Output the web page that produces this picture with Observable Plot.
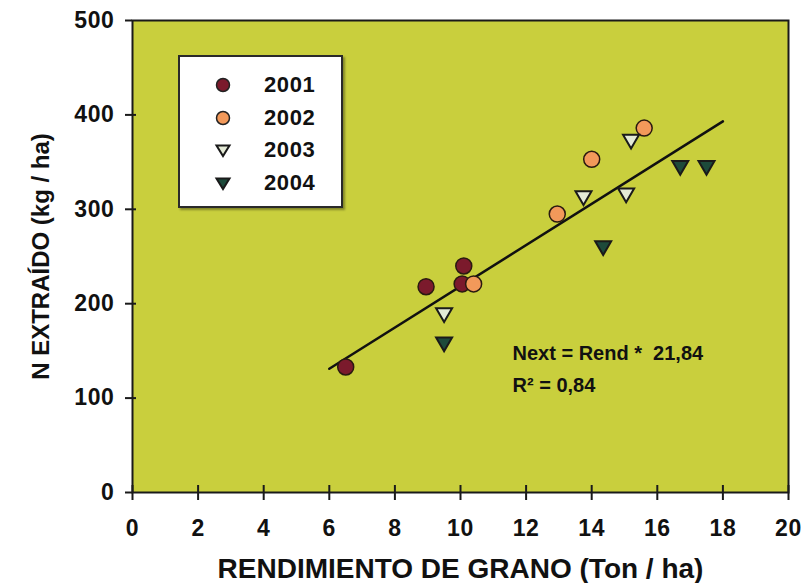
<!DOCTYPE html>
<html>
<head>
<meta charset="utf-8">
<script src="https://cdn.jsdelivr.net/npm/d3@7"></script>
<script src="https://cdn.jsdelivr.net/npm/@observablehq/plot@0.6"></script>
<style>
  html, body { margin: 0; padding: 0; background: #fff; }
  #wrap { position: relative; width: 805px; height: 583px; font-family: "Liberation Sans", Arial, sans-serif; }
  #legend { position: absolute; left: 178px; top: 55px; width: 161px; height: 149px; background: #fff;
            border: 2px solid #2a2a2a; box-shadow: 2px 2px 2px rgba(0,0,0,0.35); }
  .li { position: absolute; left: 0; height: 24px; display: flex; align-items: center; }
  .li svg { margin-left: 34px; }
  .li span { margin-left: 32px; font-weight: bold; font-size: 22px; letter-spacing: 0.6px; color: #111; }
  #chart g[aria-label$="tick label"] text { font-size: 23px; letter-spacing: 0.6px; }
  #chart g[aria-label="x-axis label"] text { font-size: 28px; }
  #chart g[aria-label="y-axis label"] text { font-size: 24px; }
  #chart g[aria-label="text"] text { font-size: 20px; }
</style>
</head>
<body>
<div id="wrap"><div id="chart"></div><div id="legend"></div></div>
<script>
// Data
const years = ["2001", "2002", "2003", "2004"];
const rend2001 = [6.5, 8.95, 10.1, 10.05];
const next2001 = [133, 218, 240, 221];
const rend2002 = [10.4, 12.95, 14.0, 15.6];
const next2002 = [221, 295, 353, 386];
const rend2003 = [9.5, 13.75, 15.05, 15.2];
const next2003 = [189, 313, 316, 373];
const rend2004 = [9.5, 14.35, 16.7, 17.5];
const next2004 = [158, 260, 345, 345];
const slope = 21.84;
const r2 = "0,84";
const fitX = [6, 18];
const xTicks = [0, 2, 4, 6, 8, 10, 12, 14, 16, 18, 20];
const yTicks = [0, 100, 200, 300, 400, 500];

const fills = {"2001": "#7b1a2c", "2002": "#f2995a", "2003": "#e4ead6", "2004": "#1d4a3a"};
const shapes = {"2001": "circle", "2002": "circle", "2003": "tri", "2004": "tri"};

const triDown = {
  draw(ctx, size) {
    const r = Math.sqrt(size / Math.PI);
    ctx.moveTo(-r, -0.72 * r);
    ctx.lineTo(r, -0.72 * r);
    ctx.lineTo(0, r);
    ctx.closePath();
  }
};

const rows = [];
[[rend2001, next2001], [rend2002, next2002], [rend2003, next2003], [rend2004, next2004]].forEach(([xs, ys], i) => {
  xs.forEach((x, j) => rows.push({year: years[i], x, y: ys[j]}));
});
const fit = fitX.map(x => ({x, y: x * slope}));

const font = '"Liberation Sans", Arial, sans-serif';

const chart = Plot.plot({
  width: 805,
  height: 583,
  marginLeft: 132,
  marginRight: 17,
  marginTop: 20,
  marginBottom: 91,
  style: {fontFamily: font, fontWeight: "bold", fontSize: "17px", color: "#111", background: "#fff"},
  x: {domain: [0, 20]},
  y: {domain: [0, 500]},
  marks: [
    Plot.frame({fill: "#c9cf3d", stroke: "#1a1a1a", strokeWidth: 2}),
    Plot.axisX({ticks: xTicks, tickSize: -7, text: null, label: null, stroke: "#1a1a1a", strokeWidth: 2}),
    Plot.axisY({ticks: yTicks.slice(1, -1), tickSize: -4, text: null, label: null, stroke: "#1a1a1a", strokeWidth: 2}),
    Plot.axisX({ticks: xTicks, tickSize: 8, tickPadding: 19, stroke: "#1a1a1a", strokeWidth: 2,
      label: "RENDIMIENTO DE GRANO (Ton / ha)", labelAnchor: "center", labelOffset: 85, labelArrow: "none"}),
    Plot.axisY({ticks: yTicks, tickSize: 7, tickPadding: 11, stroke: "#1a1a1a", strokeWidth: 2,
      label: "N EXTRAÍDO (kg / ha)", labelAnchor: "center", labelOffset: 101, labelArrow: "none"}),
    Plot.line(fit, {x: "x", y: "y", stroke: "#111", strokeWidth: 2.5}),
    Plot.dot(rows.filter(d => shapes[d.year] === "circle"), {x: "x", y: "y", r: 8, fill: d => fills[d.year], stroke: "#2a1a10", strokeWidth: 1.5}),
    Plot.dot(rows.filter(d => shapes[d.year] === "tri"), {x: "x", y: "y", r: 8, symbol: triDown, fill: d => fills[d.year], stroke: "#1a1a1a", strokeWidth: 2}),
    Plot.text([`Next = Rend *  ${String(slope).replace(".", ",")}`, `R² = ${r2}`], {
      frameAnchor: "middle", lineAnchor: "middle", text: d => d, fill: "#111", textAnchor: "start"
    })
  ]
});

// position the two equation lines
chart.querySelectorAll('g[aria-label="text"] text').forEach((t, i) => {
  t.setAttribute("transform", `translate(512, ${359 + i * 32})`);
  t.removeAttribute("x"); t.removeAttribute("y");
});

document.getElementById("chart").appendChild(chart);

// Legend
const leg = document.getElementById("legend");
years.forEach((yr, i) => {
  const div = document.createElement("div");
  div.className = "li";
  div.style.top = (16 + i * 32.5) + "px";
  const shape = shapes[yr] === "circle"
    ? `<circle cx="9" cy="9" r="6.5" fill="${fills[yr]}" stroke="#222" stroke-width="1.5"/>`
    : `<path d="M2.5,4.5 L15.5,4.5 L9,15 Z" fill="${fills[yr]}" stroke="#1a1a1a" stroke-width="2"/>`;
  div.innerHTML = `<svg width="18" height="18">${shape}</svg><span>${yr}</span>`;
  leg.appendChild(div);
});
</script>
</body>
</html>
